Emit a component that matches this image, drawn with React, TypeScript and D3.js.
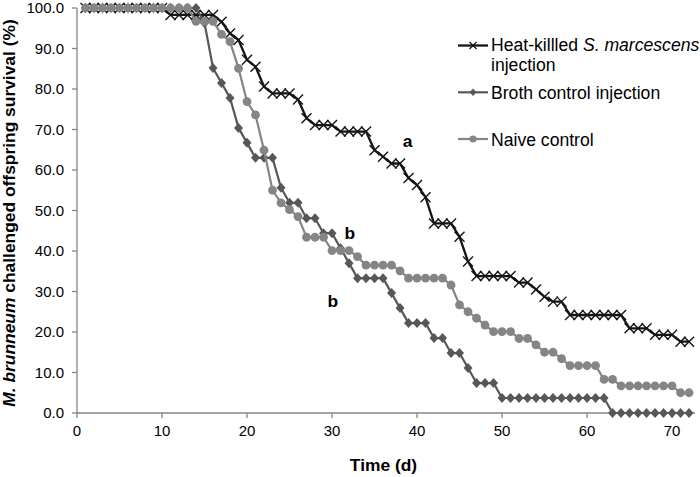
import React from "react";
import * as d3 from "d3";

const days: number[] = [
  1, 2, 3, 4, 5, 6, 7, 8, 9, 10, 11, 12, 13, 14, 15, 16, 17, 18, 19, 20, 21, 22, 23, 24,
  25, 26, 27, 28, 29, 30, 31, 32, 33, 34, 35, 36, 37, 38, 39, 40, 41, 42, 43, 44, 45, 46, 47, 48,
  49, 50, 51, 52, 53, 54, 55, 56, 57, 58, 59, 60, 61, 62, 63, 64, 65, 66, 67, 68, 69, 70, 71, 72,
];

const heatKilled: number[] = [
  100, 100, 100, 100, 100, 100, 100, 100, 100, 100,
  98.3, 98.3, 98.3, 98.3, 98.3, 98.3,
  96.6, 93.7, 92.1, 87.2, 85.5, 80.6,
  78.9, 78.9, 78.9, 77.4, 72.8,
  71.1, 71.1, 71.1,
  69.5, 69.5, 69.5, 69.5,
  64.9, 63.3, 61.6, 61.6, 58.0, 56.3, 53.3,
  46.8, 46.8, 46.8, 43.5, 37.4,
  33.8, 33.8, 33.8, 33.8, 33.8,
  32.2, 32.2, 30.5, 28.7, 27.5, 27.5,
  24.2, 24.2, 24.2, 24.2, 24.2, 24.2, 24.2,
  20.9, 20.9, 20.9, 19.3, 19.3, 19.3, 17.6, 17.6,
];

const brothControl: number[] = [
  100, 100, 100, 100, 100, 100, 100, 100, 100, 100, 100, 100, 100, 100,
  96.3, 85.2, 81.5, 77.8, 70.4, 66.7,
  63.0, 63.0, 63.0, 55.6, 51.9, 51.9, 48.1, 48.1, 44.4, 44.4,
  40.7, 37.0, 33.3, 33.3, 33.3, 33.3, 29.6, 25.9,
  22.2, 22.2, 22.2, 18.5, 18.5, 14.8, 14.8, 11.1,
  7.4, 7.4, 7.4,
  3.7, 3.7, 3.7, 3.7, 3.7, 3.7, 3.7, 3.7, 3.7, 3.7, 3.7, 3.7, 3.7,
  0, 0, 0, 0, 0, 0, 0, 0, 0, 0,
];

const naiveControl: number[] = [
  100, 100, 100, 100, 100, 100, 100, 100, 100, 100, 100, 100, 100,
  96.7, 96.7, 96.7, 93.5, 91.7, 85.1, 76.9, 73.6,
  64.9, 55.0, 51.9, 50.2, 48.5,
  43.4, 43.4, 43.4, 40.1, 40.1, 40.1, 38.6,
  36.5, 36.5, 36.5, 36.5, 35.1,
  33.3, 33.3, 33.3, 33.3, 33.3,
  31.6, 26.7, 25.0, 23.4, 21.7,
  20.1, 20.1, 20.1, 18.4, 18.4, 16.8, 15.0, 15.0, 13.4,
  11.7, 11.7, 11.7, 11.7, 8.3, 8.3,
  6.7, 6.7, 6.7, 6.7, 6.7, 6.7, 6.7, 5.0, 5.0,
];

const yTicks: number[] = [0, 10, 20, 30, 40, 50, 60, 70, 80, 90, 100];
const xTicks: number[] = [0, 10, 20, 30, 40, 50, 60, 70];

const seriesNames: string[] = ["Broth control injection", "Naive control"];
const groupLetters = [
  { text: "a", day: 38.9, value: 67.2 },
  { text: "b", day: 32.1, value: 44.6 },
  { text: "b", day: 30.1, value: 27.8 },
];

const FONT = "'Liberation Sans', Arial, sans-serif";

function XMark({ x, y, s, color, w }: { x: number; y: number; s: number; color: string; w: number }) {
  return (
    <path
      d={`M${x - s},${y - s}L${x + s},${y + s}M${x - s},${y + s}L${x + s},${y - s}`}
      stroke={color}
      strokeWidth={w}
      fill="none"
    />
  );
}

function Diamond({ x, y, s, color }: { x: number; y: number; s: number; color: string }) {
  return (
    <path
      d={`M${x},${y - s}L${x + s * 0.9},${y}L${x},${y + s}L${x - s * 0.9},${y}Z`}
      fill={color}
    />
  );
}

export default function App() {
  const width = 700;
  const height = 477;
  const x = d3.scaleLinear().domain([0, 72.7]).range([77, 695]);
  const y = d3.scaleLinear().domain([0, 100]).range([413, 8]);
  const axisColor = "#868686";

  const line = d3
    .line<number>()
    .x((_, i) => x(days[i]))
    .y((v) => y(v));

  const hkColor = "#151515";
  const brColor = "#575757";
  const nvColor = "#858585";

  const legX0 = 458;
  const legX1 = 488;

  return (
    <svg
      width={width}
      height={height}
      style={{ position: "absolute", left: 0, top: 0, background: "#fff" }}
      fontFamily={FONT}
    >
      {/* axes */}
      <line x1={x(0)} x2={x(0)} y1={y(0)} y2={y(100)} stroke={axisColor} strokeWidth={1.3} />
      <line x1={x(0)} x2={695} y1={y(0)} y2={y(0)} stroke={axisColor} strokeWidth={1.3} />
      {yTicks.map((t) => (
        <g key={"y" + t}>
          <line x1={x(0) - 5} x2={x(0)} y1={y(t)} y2={y(t)} stroke={axisColor} strokeWidth={1.3} />
          <text x={64} y={y(t)} dy="0.36em" textAnchor="end" fontSize={15} fill="#000">
            {t.toFixed(1)}
          </text>
        </g>
      ))}
      {xTicks.map((t) => (
        <g key={"x" + t}>
          <line x1={x(t)} x2={x(t)} y1={y(0)} y2={y(0) + 5} stroke={axisColor} strokeWidth={1.3} />
          <text x={x(t)} y={436} textAnchor="middle" fontSize={15} fill="#000">
            {t}
          </text>
        </g>
      ))}

      {/* axis titles */}
      <text x={383.5} y={471} textAnchor="middle" fontSize={17.4} fontWeight="bold">
        Time (d)
      </text>
      <text
        transform={`translate(15,213) rotate(-90)`}
        textAnchor="middle"
        fontSize={17.4}
        fontWeight="bold"
      >
        <tspan fontStyle="italic">M. brunneum</tspan>
        <tspan> challenged offspring survival (%)</tspan>
      </text>

      {/* Heat-killed series */}
      <path d={line(heatKilled) || ""} fill="none" stroke={hkColor} strokeWidth={2.3} strokeLinejoin="round" />
      {heatKilled.map((v, i) => (
        <XMark key={"hk" + i} x={x(days[i])} y={y(v)} s={5} color={hkColor} w={1.4} />
      ))}

      {/* Broth series */}
      <path d={line(brothControl) || ""} fill="none" stroke={brColor} strokeWidth={2.2} strokeLinejoin="round" />
      {brothControl.map((v, i) => (
        <Diamond key={"br" + i} x={x(days[i])} y={y(v)} s={5} color={brColor} />
      ))}

      {/* Naive series */}
      <path d={line(naiveControl) || ""} fill="none" stroke={nvColor} strokeWidth={2.2} strokeLinejoin="round" />
      {naiveControl.map((v, i) => (
        <circle key={"nv" + i} cx={x(days[i])} cy={y(v)} r={4.4} fill={nvColor} />
      ))}

      {/* group letters */}
      {groupLetters.map((g, i) => (
        <text
          key={"g" + i}
          x={x(g.day)}
          y={y(g.value)}
          dy="0.36em"
          textAnchor="middle"
          fontSize={17.4}
          fontWeight="bold"
        >
          {g.text}
        </text>
      ))}

      {/* legend */}
      <g>
        <line x1={legX0} x2={legX1} y1={45.5} y2={45.5} stroke={hkColor} strokeWidth={2.3} />
        <XMark x={(legX0 + legX1) / 2} y={45.5} s={3.5} color={hkColor} w={1.2} />
        <text x={491} y={51} fontSize={17.6}>
          <tspan>Heat-killled </tspan>
          <tspan fontStyle="italic">S. marcescens</tspan>
        </text>
        <text x={491} y={71} fontSize={17.6}>
          injection
        </text>

        <line x1={legX0} x2={legX1} y1={92.3} y2={92.3} stroke={brColor} strokeWidth={2.2} />
        <Diamond x={(legX0 + legX1) / 2} y={92.3} s={3.8} color={brColor} />
        <text x={491} y={98.5} fontSize={17.6}>
          {seriesNames[0]}
        </text>

        <line x1={legX0} x2={legX1} y1={139} y2={139} stroke={nvColor} strokeWidth={2.2} />
        <circle cx={(legX0 + legX1) / 2} cy={139} r={3.6} fill={nvColor} />
        <text x={491} y={145.5} fontSize={17.6}>
          {seriesNames[1]}
        </text>
      </g>
    </svg>
  );
}
